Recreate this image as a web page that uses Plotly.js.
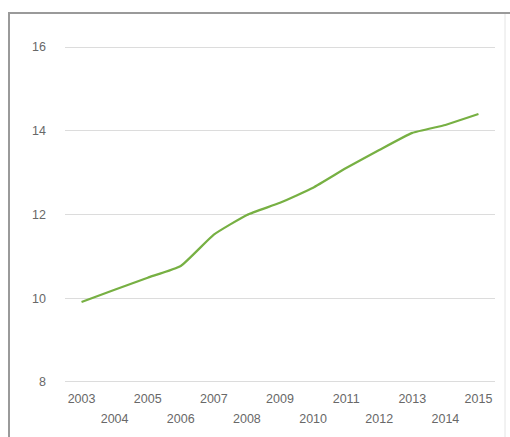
<!DOCTYPE html>
<html>
<head>
<meta charset="utf-8">
<script src="https://cdn.plot.ly/plotly-3.0.1.min.js"></script>
<style>
  html, body { margin: 0; padding: 0; background: #fff; }
  #chart { width: 510px; height: 437px; }
</style>
</head>
<body>
<div id="chart"></div>
<script>
const years = ['2003','2004','2005','2006','2007','2008','2009','2010','2011','2012','2013','2014','2015'];
const values = [9.91, 10.20, 10.49, 10.77, 11.52, 11.99, 12.28, 12.64, 13.11, 13.54, 13.95, 14.14, 14.40];
const yTicks = [8, 10, 12, 14, 16];
const rowOneYears = years.filter((_, i) => i % 2 === 0);
const rowTwoYears = years.filter((_, i) => i % 2 === 1);

const W = 510, H = 437;
const M = {l: 65, r: 15, t: 45, b: 53};
const pw = W - M.l - M.r, ph = H - M.t - M.b;
const px = x => (x - M.l) / pw;
const py = y => (H - M.b - y) / ph;

const labelFont = {family: 'Liberation Sans, Arial, sans-serif', size: 12.5, color: '#686868'};

const frame = [
  {type: 'line', xref: 'paper', yref: 'paper', x0: px(9), x1: px(9), y0: py(13), y1: py(445), line: {color: '#9a9a9a', width: 2}},
  {type: 'line', xref: 'paper', yref: 'paper', x0: px(8), x1: px(512), y0: py(13), y1: py(13), line: {color: '#9a9a9a', width: 2}},
  {type: 'line', xref: 'paper', yref: 'paper', x0: px(505), x1: px(505), y0: py(14), y1: py(445), line: {color: '#e4e4e4', width: 1}}
];

const trace = {
  x: years, y: values, type: 'scatter', mode: 'lines',
  line: {color: '#77b043', width: 2.2, shape: 'spline', smoothing: 0.4},
  hoverinfo: 'x+y'
};
const trace2 = {
  x: years, y: values, type: 'scatter', mode: 'lines',
  xaxis: 'x2', line: {width: 0}, opacity: 0, hoverinfo: 'skip'
};

const xBase = {
  type: 'category', range: [-0.5, 12.5],
  categoryorder: 'array', categoryarray: years,
  showgrid: false, zeroline: false, showline: false, ticks: '',
  tickfont: labelFont
};

const layout = {
  width: W, height: H,
  margin: M,
  paper_bgcolor: '#ffffff', plot_bgcolor: '#ffffff',
  showlegend: false,
  xaxis: Object.assign({}, xBase, {
    tickvals: rowOneYears, ticktext: rowOneYears, ticklabelstandoff: 5
  }),
  xaxis2: Object.assign({}, xBase, {
    overlaying: 'x', side: 'bottom', anchor: 'y',
    tickvals: rowTwoYears, ticktext: rowTwoYears, ticklabelstandoff: 25
  }),
  yaxis: {
    range: [7.95, 16.05],
    tickvals: yTicks, ticktext: yTicks.map(String),
    showgrid: true, gridcolor: '#dcdcdc', gridwidth: 1,
    zeroline: false, showline: false, ticks: '',
    ticklabelstandoff: 18,
    tickfont: labelFont
  },
  shapes: frame
};

Plotly.newPlot('chart', [trace2, trace], layout, {displayModeBar: false, staticPlot: true});
</script>
</body>
</html>
